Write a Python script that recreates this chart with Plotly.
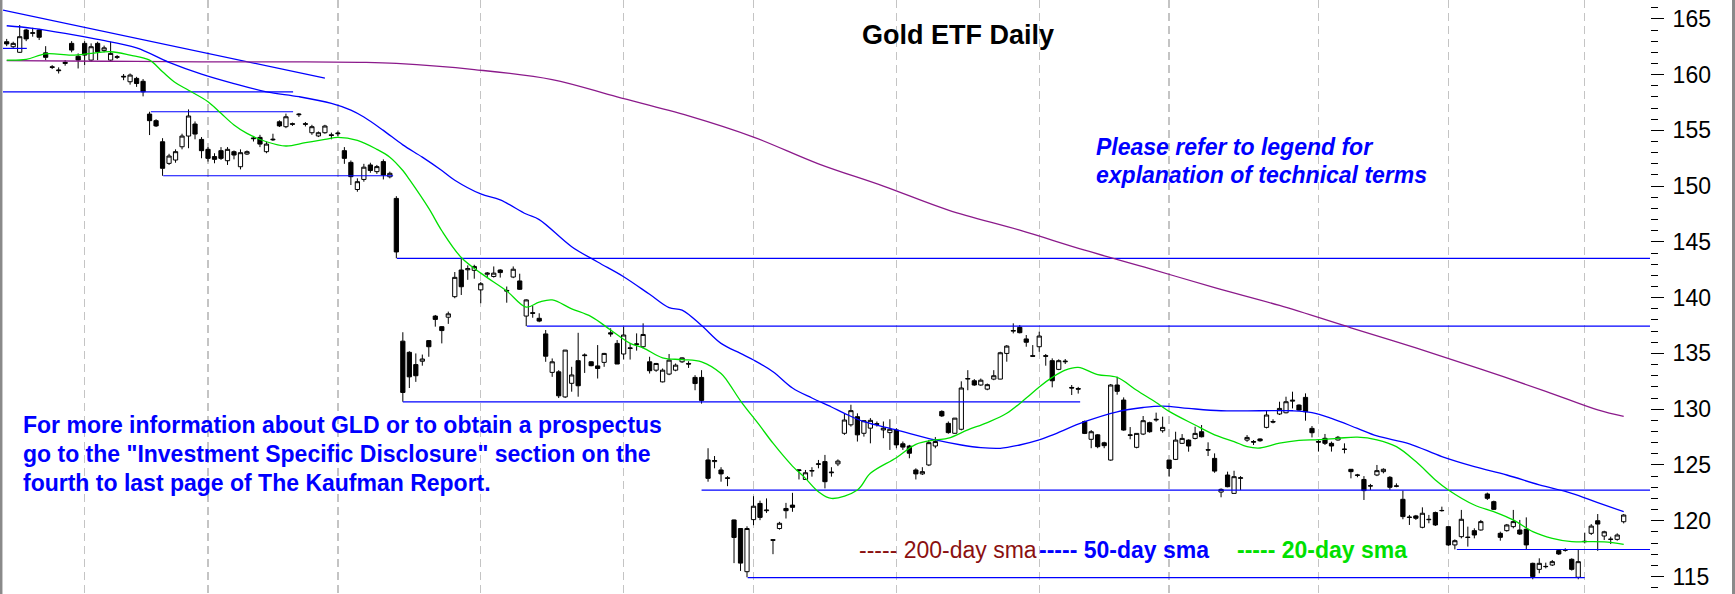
import plotly.graph_objects as go

# ---------------- data ----------------
opens = [
    162.95, 162.5, 162.0, 164.0, 163.7, 164.0, 161.95, 160.7, 160.35, 161.0,
    162.8, 161.65, 162.8, 161.3, 162.8, 162.15, 161.3, 161.55, 159.85, 159.36,
    159.66, 159.4, 156.46, 155.87, 153.98, 152.04, 152.34, 153.53, 154.49, 155.57,
    154.19, 153.3, 152.65, 153.18, 152.28, 153.09, 151.74, 152.88, 154.25, 154.37,
    153.09, 154.15, 155.77, 155.33, 155.6, 156.4, 155.6, 154.79, 154.5, 154.79,
    154.6, 154.7, 153.18, 152.13, 149.7, 150.6, 151.9, 151.3, 152.2, 150.84,
    148.9, 136.1, 135.1, 134.0, 134.3, 136.15, 138.35, 137.4, 138.25, 140.09,
    142.48, 142.5, 142.45, 140.7, 142.1, 141.9, 142.48, 140.65, 141.85, 141.5,
    138.35, 138.65, 138.15, 136.75, 133.3, 133.35, 131.1, 132.32, 134.35, 134.8,
    134.25, 133.88, 134.2, 136.85, 135.9, 134.95, 135.5, 135.8, 135.6, 134.25,
    133.5, 132.45, 133.15, 133.5, 134.25, 134.1, 132.85, 132.85, 125.45, 125.3,
    124.55, 123.85, 120.07, 119.3, 115.43, 120.1, 121.55, 120.9, 118.3, 119.3,
    121.1, 121.4, 124.5, 123.7, 124.45, 125.05, 125.3, 124.3, 125.1, 127.84,
    128.6, 129.33, 127.84, 128.3, 128.7, 128.14, 127.9, 128.14, 126.9, 126.7,
    124.55, 124.2, 125.0, 126.7, 129.8, 128.73, 127.84, 128.2, 132.7, 132.55,
    132.17, 131.8, 132.7, 132.7, 135.0, 137.0, 137.34, 136.3, 134.8, 135.6,
    134.8, 134.35, 133.57, 134.25, 131.95, 131.85, 128.9, 127.3, 127.7, 126.99,
    125.44, 132.17, 130.82, 127.7, 126.58, 127.77, 128.79, 129.1, 128.07, 125.44,
    125.5, 126.94, 127.23, 127.38, 127.98, 126.37, 125.59, 122.57, 124.1, 122.45,
    123.8, 127.23, 127.1, 127.33, 128.37, 128.9, 129.57, 129.68, 130.72, 130.37,
    131.06, 128.28, 127.1, 127.39, 126.94, 127.24, 126.42, 124.61, 124.1, 123.7,
    123.13, 124.1, 124.4, 123.89, 123.12, 121.92, 120.33, 120.43, 119.41, 120.13,
    120.73, 120.9, 119.47, 117.83, 118.57, 118.53, 119.11, 119.17, 122.4, 121.71,
    118.87, 119.11, 119.47, 119.17, 119.23, 116.18, 115.64, 115.88, 116.03, 117.32,
    117.42, 116.54, 114.93, 118.12, 118.87, 120.0, 118.63, 118.35, 118.33, 119.91,
]
highs = [
    163.2, 162.95, 164.45, 164.1, 164.2, 164.1, 162.55, 160.85, 160.65, 161.3,
    163.0, 161.9, 163.0, 162.8, 162.95, 162.6, 162.95, 161.75, 160.05, 160.1,
    159.8, 159.6, 156.67, 156.0, 154.3, 152.9, 153.3, 154.7, 156.88, 155.8,
    154.4, 153.5, 152.95, 153.5, 153.5, 153.2, 153.3, 153.2, 154.5, 154.6,
    154.0, 154.7, 155.9, 156.5, 155.7, 156.55, 155.75, 155.5, 154.9, 155.5,
    154.8, 154.9, 153.5, 152.3, 150.7, 152.0, 152.1, 151.9, 152.4, 151.3,
    149.1, 136.9, 135.2, 135.0, 134.9, 136.2, 138.45, 137.45, 138.75, 142.3,
    143.53, 142.9, 142.95, 141.4, 142.3, 142.8, 142.55, 141.0, 142.8, 142.15,
    139.85, 139.25, 138.6, 137.1, 134.55, 133.5, 135.31, 133.8, 136.85, 135.0,
    134.3, 135.75, 135.05, 137.25, 136.2, 137.4, 135.9, 136.8, 137.7, 134.7,
    134.15, 133.65, 134.95, 134.1, 134.65, 134.3, 133.05, 133.5, 126.5, 125.8,
    124.8, 124.0, 120.1, 119.3, 119.5, 122.2, 121.8, 122.0, 118.35, 119.9,
    121.6, 122.5, 124.6, 124.55, 124.8, 125.45, 125.9, 124.8, 125.5, 129.63,
    130.4, 129.63, 129.0, 129.2, 128.9, 128.9, 129.1, 128.3, 127.1, 126.8,
    124.7, 124.8, 127.24, 127.5, 129.9, 128.9, 129.2, 132.5, 133.5, 132.7,
    132.75, 132.3, 133.5, 135.15, 135.75, 137.7, 137.55, 136.65, 135.75, 136.95,
    134.95, 134.56, 134.47, 134.5, 132.17, 132.0, 128.98, 128.13, 127.77, 127.08,
    132.26, 132.91, 131.06, 128.4, 127.83, 129.39, 128.88, 129.69, 129.33, 125.44,
    127.98, 127.77, 127.29, 128.43, 128.58, 127.03, 126.04, 122.9, 124.4, 124.48,
    124.0, 127.68, 127.23, 127.38, 129.92, 129.1, 130.67, 131.12, 131.57, 130.43,
    131.42, 128.49, 127.3, 127.78, 127.09, 127.6, 126.94, 124.61, 124.2, 124.0,
    123.3, 125.0, 124.7, 124.0, 123.35, 122.7, 120.52, 120.52, 121.2, 120.52,
    120.82, 121.26, 119.47, 118.33, 120.97, 119.47, 119.32, 120.07, 122.52, 121.8,
    119.02, 119.71, 120.97, 120.07, 120.3, 116.24, 116.63, 116.24, 116.48, 117.44,
    117.53, 116.63, 117.38, 118.93, 119.7, 120.6, 119.1, 118.57, 118.87, 120.6,
]
lows = [
    162.55, 162.3, 161.95, 163.0, 163.4, 163.1, 161.3, 160.5, 160.1, 160.8,
    162.0, 160.55, 160.86, 161.15, 161.3, 162.0, 161.15, 161.4, 159.5, 159.1,
    158.9, 158.05, 154.58, 155.3, 150.93, 151.9, 152.1, 153.3, 153.4, 154.2,
    152.5, 152.2, 152.05, 152.35, 151.9, 152.4, 151.5, 152.8, 154.0, 153.5,
    152.95, 154.05, 155.3, 155.2, 155.4, 156.2, 155.35, 154.6, 154.4, 154.7,
    154.2, 154.5, 152.0, 150.1, 149.5, 150.4, 151.2, 151.1, 150.6, 150.7,
    143.53, 130.67, 131.9, 132.45, 133.9, 134.7, 137.4, 135.9, 137.65, 139.95,
    140.24, 141.6, 141.7, 139.5, 141.85, 141.8, 141.8, 139.55, 141.75, 140.7,
    137.45, 138.2, 137.8, 134.25, 132.9, 131.0, 131.0, 131.57, 131.12, 133.25,
    133.85, 132.75, 133.8, 136.5, 134.05, 134.45, 134.45, 135.25, 135.45, 133.2,
    133.35, 132.4, 133.05, 133.4, 134.15, 133.7, 131.7, 130.5, 123.5, 124.7,
    123.5, 123.1, 116.2, 115.5, 114.93, 119.6, 120.05, 120.7, 117.0, 119.2,
    120.2, 120.8, 123.7, 123.65, 123.95, 124.7, 122.9, 123.95, 124.9, 127.7,
    128.44, 127.1, 127.54, 126.94, 128.44, 127.4, 126.35, 126.5, 126.35, 125.6,
    123.7, 124.1, 124.9, 126.5, 129.3, 127.8, 127.8, 128.1, 131.7, 132.1,
    132.1, 131.7, 132.6, 132.68, 134.26, 136.8, 136.8, 135.6, 134.7, 135.15,
    133.9, 131.96, 133.5, 134.05, 131.27, 131.4, 127.77, 126.5, 126.5, 126.5,
    125.38, 131.3, 128.07, 127.3, 126.49, 127.68, 127.89, 128.88, 127.89, 123.95,
    125.44, 126.88, 126.19, 127.29, 127.47, 125.8, 124.3, 122.1, 123.0, 122.45,
    122.75, 127.08, 126.79, 127.08, 128.28, 128.73, 129.48, 129.63, 130.07, 129.86,
    128.97, 127.47, 126.2, 126.79, 126.2, 127.18, 126.04, 123.8, 123.9, 121.86,
    122.76, 124.0, 124.25, 122.76, 123.0, 120.13, 119.62, 120.07, 119.32, 119.77,
    119.53, 120.82, 117.74, 117.43, 118.42, 117.68, 118.42, 119.11, 121.86, 120.96,
    118.21, 119.02, 119.32, 118.72, 117.44, 114.75, 115.29, 115.73, 115.94, 116.93,
    117.23, 115.53, 114.75, 117.97, 118.72, 117.3, 118.27, 117.91, 118.21, 119.76,
]
closes = [
    162.75, 162.8, 163.4, 163.2, 163.75, 163.35, 161.55, 160.65, 160.4, 161.1,
    162.2, 161.3, 161.75, 162.5, 162.05, 162.4, 161.9, 161.6, 159.8, 159.96,
    159.2, 158.46, 155.87, 155.4, 151.6, 152.7, 153.09, 154.49, 156.29, 154.67,
    153.18, 152.49, 152.4, 152.49, 153.3, 152.79, 153.0, 153.09, 154.3, 153.77,
    153.77, 154.2, 155.4, 156.22, 155.55, 156.45, 155.55, 155.33, 154.79, 155.39,
    154.55, 154.75, 152.49, 150.85, 150.4, 151.7, 151.4, 151.75, 151.0, 151.15,
    144.1, 131.5, 132.9, 133.0, 134.5, 135.6, 138.05, 137.05, 138.55, 141.82,
    140.98, 142.6, 142.8, 141.25, 142.2, 142.2, 142.25, 140.6, 142.55, 140.75,
    139.8, 138.6, 137.9, 134.75, 134.25, 131.2, 135.3, 133.07, 132.1, 134.85,
    133.9, 133.65, 135.0, 136.75, 134.05, 136.65, 135.45, 135.85, 136.7, 133.45,
    134.1, 133.5, 134.4, 133.95, 134.6, 134.05, 132.3, 130.79, 123.8, 125.4,
    124.2, 123.8, 118.5, 116.2, 119.3, 121.3, 120.3, 120.95, 118.25, 119.77,
    120.9, 121.2, 124.55, 124.3, 124.5, 125.1, 123.5, 124.35, 125.35, 129.03,
    129.87, 127.7, 128.97, 129.0, 128.65, 128.3, 128.2, 126.8, 126.6, 126.05,
    124.2, 124.4, 127.0, 127.1, 129.4, 127.9, 129.2, 131.9, 132.75, 132.17,
    132.6, 132.2, 133.0, 135.06, 135.66, 137.05, 136.86, 136.0, 134.75, 136.56,
    134.75, 132.55, 134.35, 134.3, 131.9, 131.8, 127.83, 127.98, 126.64, 126.73,
    132.17, 131.6, 128.13, 127.66, 127.83, 128.97, 127.98, 129.05, 128.37, 124.69,
    127.23, 127.38, 126.7, 127.83, 127.53, 126.34, 124.45, 122.81, 123.05, 123.95,
    123.85, 127.47, 127.05, 127.17, 129.48, 128.85, 130.07, 130.67, 130.8, 129.92,
    129.77, 127.89, 127.05, 126.94, 126.7, 127.48, 126.4, 124.4, 124.08, 122.7,
    123.12, 124.49, 124.61, 123.0, 123.1, 120.37, 120.3, 120.22, 120.67, 120.1,
    119.62, 120.92, 117.83, 118.21, 120.13, 118.5, 118.72, 119.92, 122.01, 121.02,
    118.51, 119.62, 119.92, 118.81, 117.83, 114.99, 116.18, 115.9, 116.33, 117.02,
    117.36, 115.64, 116.33, 118.15, 119.52, 119.7, 119.01, 118.33, 118.72, 120.51,
]
days = list(range(len(opens)))

# first trading day of each month (dashed vertical grid)
month_starts = [12, 31, 51, 73, 95, 115, 137, 159, 179, 202, 222, 243]

# moving averages, read at sampled days
sma20_day = [0, 3, 6, 10, 13, 16, 19, 22, 24, 26, 28, 31, 33, 35, 37, 40, 43, 46, 49, 51,
             54, 57, 59, 61, 62, 65, 67, 70, 73, 77, 80, 82, 84, 87, 90, 93, 96, 98, 101, 104,
             107, 110, 111, 113, 116, 118, 121, 123, 125, 127, 131, 133, 137, 140, 143, 145, 148, 151, 154, 157,
             159, 161, 163, 165, 168, 171, 174, 177, 179, 183, 186, 189, 191, 193, 196, 199, 202, 205, 208, 211,
             214, 217, 220, 222, 226, 229, 232, 235, 238, 241, 243, 246, 249]
sma20_val = [161.3, 161.37, 161.86, 161.75, 161.9, 162.05, 161.75, 161.3, 160.26, 159.27,
             158.6, 157.57, 156.53, 155.48, 154.73, 153.98, 153.6, 153.9, 154.19, 154.37,
             154.1, 153.3, 152.6, 151.4, 150.6, 148.0, 146.0, 143.6, 142.2, 140.6,
             139.15, 139.6, 139.8, 139.0, 138.3, 137.1, 135.9, 135.5, 134.6, 134.45,
             134.25, 133.2, 132.5, 130.75, 128.5, 126.95, 124.9, 123.8, 122.6, 122.0,
             122.76, 124.25, 125.65, 126.85, 127.24, 127.4, 128.14, 128.8, 129.63, 131.0,
             132.0, 132.85, 133.5, 133.75, 133.1, 132.85, 131.7, 130.6, 129.8, 128.58,
             127.7, 127.1, 126.64, 126.52, 126.95, 127.2, 127.27, 127.39, 127.5, 127.26,
             126.64, 125.3, 123.66, 122.76, 121.41, 120.81, 120.07, 119.02, 118.42, 118.12,
             118.12, 118.1, 117.88]

sma50_day = [0, 4, 9, 14, 20, 25, 30, 35, 40, 45, 50, 53, 55, 58, 61, 64, 67, 69, 73, 76,
             80, 82, 87, 91, 95, 99, 102, 104, 107, 110, 113, 115, 118, 121, 124, 127, 129, 132, 137, 143,
             147, 150, 153, 156, 159, 161, 166, 171, 175, 178, 182, 187, 193, 198, 201, 204, 208, 211, 216, 221,
             226, 231, 236, 241, 245, 249]
sma50_val = [164.38, 164.15, 163.7, 163.16, 162.4, 161.1, 160.05, 159.2, 158.46, 158.02,
             157.42, 156.82, 156.2, 155.0, 153.7, 152.6, 151.4, 150.53, 149.3, 148.76,
             147.5, 147.0, 144.57, 143.2, 141.88, 140.3, 139.1, 138.89, 137.5, 135.9,
             135.0, 134.41, 133.36, 131.9, 131.0, 130.2, 129.63, 128.88, 128.14, 127.24,
             126.79, 126.55, 126.49, 126.79, 127.24, 127.68, 128.88, 129.77, 130.15, 130.28,
             130.07, 129.86, 129.86, 129.86, 129.7, 129.18, 128.28, 127.6, 126.9, 125.75,
             124.85, 124.1, 123.21, 122.46, 121.62, 120.81]

sma200_day = [0, 15, 30, 45, 55, 60, 72, 84, 94, 105, 115, 125, 135, 145, 156, 166, 176, 186,
              196, 207, 217, 227, 237, 245, 249]
sma200_val = [161.25, 161.2, 161.15, 161.15, 161.1, 161.0, 160.45, 159.55, 158.0, 156.3,
              154.4, 152.0, 150.0, 147.85, 146.05, 144.26, 142.6, 140.9, 139.3, 137.3,
              135.5, 133.6, 131.6, 129.93, 129.35]

# drawn support / resistance levels: price, first day, last day (None = to right edge)
level_price = [162.35, 158.46, 156.67, 150.93, 143.52, 137.45, 130.66, 122.74, 114.9, 117.42]
level_start = [None, None, 22.2, 24.1, 60.1, 80.1, 61.0, 107.0, 114.1, 223.3]
level_end = [3.1, 44.1, 44.1, 59.5, None, None, 165.3, None, 243.0, None]

# down-sloping trend line
trend_day = [-0.57, 49.0]
trend_price = [165.78, 159.69]

# ---------------- figure ----------------
W, H = 1735, 594
ML, MR = 3, 85
PW = W - ML - MR
X_LEFT, X_RIGHT = -0.57, 253.05
Y_LO, Y_HI = 113.43, 166.69
FONT = "Arial, Liberation Sans, sans-serif"
BLUE = "#0000ff"


def px(x):
    return (x - ML) / PW


def py(y):
    return 1 - y / H


fig = go.Figure()

fig.add_trace(go.Candlestick(
    x=days, open=opens, high=highs, low=lows, close=closes,
    increasing=dict(line=dict(color="black", width=1), fillcolor="white"),
    decreasing=dict(line=dict(color="black", width=1), fillcolor="black"),
    whiskerwidth=0, showlegend=False, hoverinfo="skip",
))

for p, s, e in zip(level_price, level_start, level_end):
    s = X_LEFT if s is None else s
    e = X_RIGHT if e is None else e
    fig.add_trace(go.Scatter(x=[s, e], y=[p, p], mode="lines",
                             line=dict(color=BLUE, width=1.2),
                             showlegend=False, hoverinfo="skip"))

fig.add_trace(go.Scatter(x=trend_day, y=trend_price, mode="lines",
                         line=dict(color=BLUE, width=1.2), showlegend=False, hoverinfo="skip"))

fig.add_trace(go.Scatter(x=sma200_day, y=sma200_val, mode="lines", line_shape="spline",
                         line=dict(color="#8b1a8b", width=1.3), showlegend=False, hoverinfo="skip"))
fig.add_trace(go.Scatter(x=sma50_day, y=sma50_val, mode="lines", line_shape="spline",
                         line=dict(color=BLUE, width=1.3), showlegend=False, hoverinfo="skip"))
fig.add_trace(go.Scatter(x=sma20_day, y=sma20_val, mode="lines", line_shape="spline",
                         line=dict(color="#00e000", width=1.3), showlegend=False, hoverinfo="skip"))

fig.update_xaxes(range=[X_LEFT, X_RIGHT], tickvals=month_starts, showticklabels=False,
                 ticks="", showgrid=True, gridcolor="#c4c4c4", griddash="8px,5px", gridwidth=1.3,
                 zeroline=False, showline=False, rangeslider_visible=False)
fig.update_yaxes(side="right", range=[Y_LO, Y_HI], tickvals=list(range(115, 170, 5)),
                 ticks="outside", ticklen=13, tickwidth=1, tickcolor="black",
                 showgrid=False, zeroline=False, showline=False,
                 minor=dict(tickvals=list(range(114, 167)), ticks="outside", ticklen=7,
                            tickwidth=1, tickcolor="black", showgrid=False),
                 tickfont=dict(size=23, color="black", family=FONT),
                 ticklabelstandoff=4)

ann = []
ann.append(dict(text="<b>Gold ETF Daily</b>", x=px(958), y=py(35), xanchor="center",
                yanchor="middle", font=dict(size=27, color="black", family=FONT)))
for t, yy in [("Please refer to legend for", 147), ("explanation of technical terms", 175)]:
    ann.append(dict(text="<b><i>" + t + "</i></b>", x=px(1094), y=py(yy), xanchor="left",
                    yanchor="middle", font=dict(size=23, color=BLUE, family=FONT)))
for t, yy in [("For more information about GLD or to obtain a prospectus", 425),
              ("go to the \"Investment Specific Disclosure\" section on the", 454),
              ("fourth to last page of The Kaufman Report.", 483)]:
    ann.append(dict(text="<b>" + t + "</b>", x=px(21), y=py(yy), xanchor="left",
                    yanchor="middle", font=dict(size=23, color=BLUE, family=FONT)))
ann.append(dict(text="----- 200-day sma", x=px(857), y=py(550), xanchor="left", yanchor="middle",
                font=dict(size=23, color="#8b1010", family=FONT)))
ann.append(dict(text="<b>----- 50-day sma</b>", x=px(1037), y=py(550), xanchor="left", yanchor="middle",
                font=dict(size=23, color=BLUE, family=FONT)))
ann.append(dict(text="<b>----- 20-day sma</b>", x=px(1235), y=py(550), xanchor="left", yanchor="middle",
                font=dict(size=23, color="#00e000", family=FONT)))
for a in ann:
    a.update(xref="paper", yref="paper", showarrow=False)

shapes = [
    dict(type="line", xref="paper", yref="paper", x0=px(1.2), x1=px(1.2), y0=0, y1=1,
         line=dict(color="#8a8a8a", width=2.5)),
    dict(type="line", xref="paper", yref="paper", x0=px(1733.5), x1=px(1733.5), y0=0, y1=1,
         line=dict(color="#8a8a8a", width=3)),
]

fig.update_layout(width=W, height=H, margin=dict(l=ML, r=MR, t=0, b=0, pad=0),
                  paper_bgcolor="white", plot_bgcolor="white",
                  annotations=ann, shapes=shapes, showlegend=False,
                  boxgap=0.35, boxgroupgap=0.0,
                  font=dict(family=FONT))

fig.write_html("out.html", config={"displayModeBar": False, "staticPlot": True},
               post_script="document.body.style.margin='0px';document.body.style.overflow='hidden';")
